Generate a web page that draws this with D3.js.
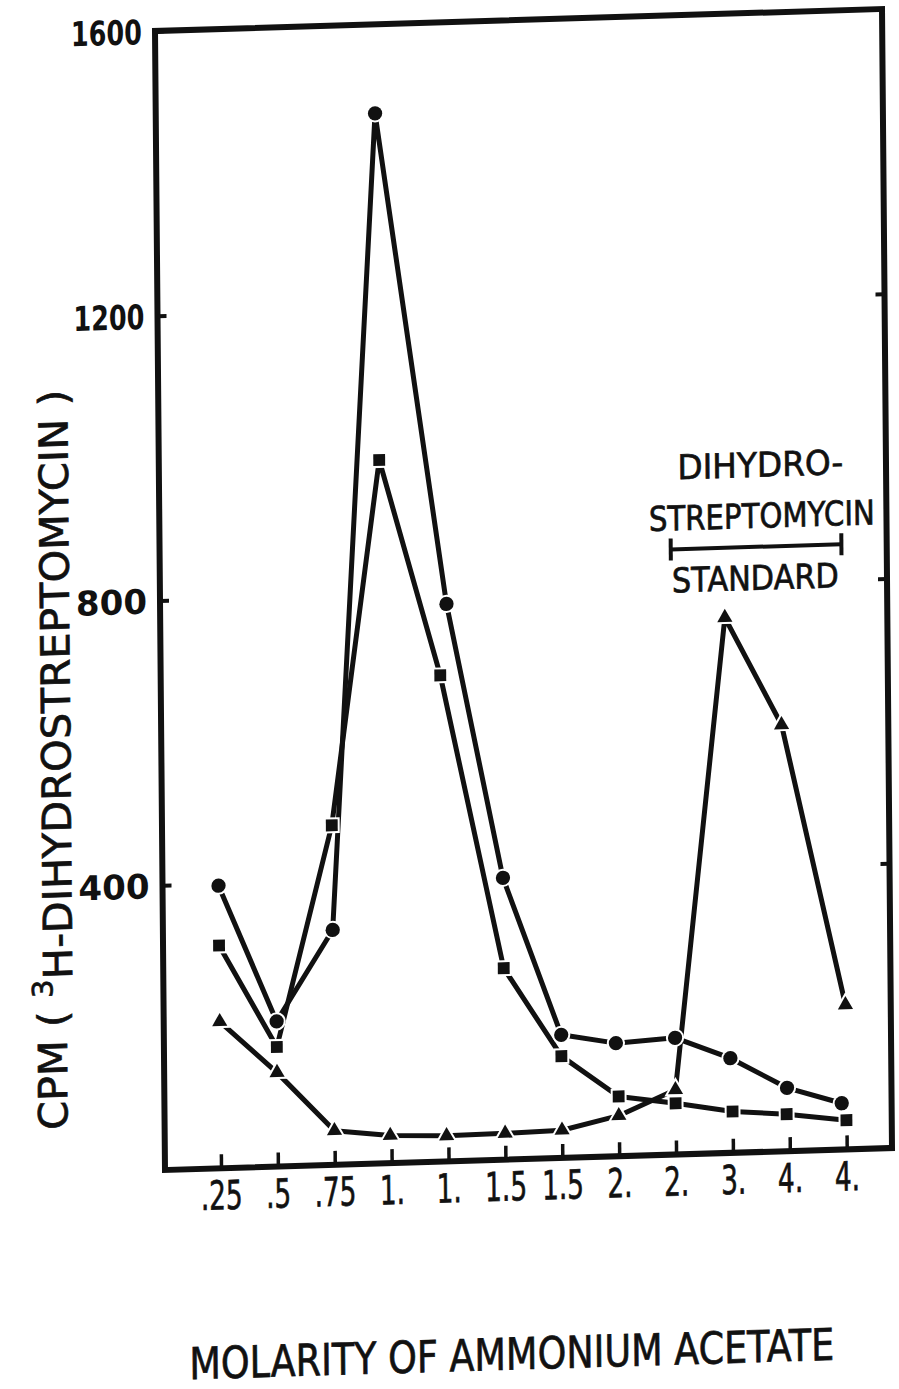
<!DOCTYPE html>
<html>
<head>
<meta charset="utf-8">
<script src="https://cdn.jsdelivr.net/npm/d3@7"></script>
<style>
  html, body { margin: 0; background: #fff; }
  svg { display: block; }
  text { font-family: "DejaVu Sans", sans-serif; fill: #111; }
  .heavy { stroke: #111; stroke-width: 0.7px; }
</style>
</head>
<body>
<svg id="chart" width="899" height="1389"></svg>
<script>
// Fractions eluted with increasing ammonium acetate molarity
const fractionLabels = [".25", ".5", ".75", "1.", "1.", "1.5", "1.5", "2.", "2.", "3.", "4.", "4."];
const fractionIndex = d3.range(1, 13);
const cpmTicks = [400, 800, 1200, 1600];

// Series: filled circles
const circleFraction = [1, 2, 3, 3.87, 5.05, 6, 7, 7.96, 9, 9.97, 10.96, 11.92];
const circleCpm = [397, 204, 330, 1475, 783, 396, 173, 159, 164, 133, 89, 65];

// Series: filled squares
const squareFraction = [1, 2, 3, 3.89, 4.93, 6, 7, 8, 9, 10, 10.95, 12];
const squareCpm = [313, 168, 477, 988, 683, 269, 143, 84, 72, 58, 52, 41];

// Series: filled triangles
const triangleFraction = [1, 2, 3, 3.98, 4.97, 6, 7, 8, 9, 9.94, 10.92, 12];
const triangleCpm = [206, 132, 48, 39, 36, 37, 39, 57, 91, 752, 599, 203];

// Range of fractions where the dihydrostreptomycin standard elutes
const standardRange = [9, 12];
const standardLevel = 850;

const W = 727, H = 1139;
const svg = d3.select("#chart");

// The plotted sheet sits slightly askew on the page
const g = svg.append("g")
  .attr("transform", "matrix(1,-0.03026,0.00878,1,155,31)");

const x = d3.scaleLinear().domain([1, 12]).range([56, 681.7]);
const y = d3.scaleLinear().domain([0, 1600]).range([H, 0]);

// Places a text and squeezes it horizontally to the wanted width
function fitText(parent, str, cx, cy, size, width, extra = "") {
  const t = parent.append("text")
    .attr("text-anchor", "middle")
    .attr("font-size", size)
    .attr("class", "heavy")
    .text(str);
  const len = t.node().getComputedTextLength();
  t.attr("transform", `translate(${cx},${cy}) ${extra} scale(${width / len},1)`);
  return t;
}

// Frame
g.append("rect")
  .attr("x", 0).attr("y", 0).attr("width", W).attr("height", H)
  .attr("fill", "none").attr("stroke", "#111").attr("stroke-width", 6);

// Bottom axis: inward ticks and condensed labels
const xAxis = g.append("g")
  .attr("transform", `translate(0,${H})`)
  .call(d3.axisBottom(x).tickValues(fractionIndex)
    .tickFormat((d, i) => fractionLabels[i])
    .tickSizeInner(-14).tickSizeOuter(0).tickPadding(0));
xAxis.select(".domain").remove();
xAxis.selectAll("line").attr("stroke", "#111").attr("stroke-width", 3.5);
xAxis.selectAll("text")
  .attr("y", 41).attr("dy", null)
  .attr("font-size", 40)
  .attr("class", "heavy")
  .attr("transform", "scale(0.66,1)")
  .style("font-family", "'DejaVu Sans', sans-serif")
  .attr("fill", "#111");

// Left axis
const yAxis = g.append("g")
  .call(d3.axisLeft(y).tickValues(cpmTicks).tickFormat(d3.format("d"))
    .tickSizeInner(-9).tickSizeOuter(0).tickPadding(13));
yAxis.select(".domain").remove();
yAxis.selectAll("line").attr("stroke", "#111").attr("stroke-width", 4);
yAxis.selectAll("text")
  .attr("font-size", 34)
  .attr("font-weight", "bold")
  .attr("dy", "0.36em")
  .attr("textLength", 71)
  .attr("lengthAdjust", "spacingAndGlyphs")
  .style("font-family", "'DejaVu Sans', sans-serif")
  .attr("fill", "#111");

// Right axis: ticks only
const yAxisR = g.append("g")
  .attr("transform", `translate(${W},0)`)
  .call(d3.axisRight(y).tickValues(cpmTicks.slice(0, 3)).tickFormat("")
    .tickSizeInner(-9).tickSizeOuter(0));
yAxisR.select(".domain").remove();
yAxisR.selectAll("line").attr("stroke", "#111").attr("stroke-width", 4);

// Axis titles
const yTitle = g.append("text")
  .attr("text-anchor", "middle")
  .attr("class", "heavy")
  .attr("font-size", 40);
yTitle.append("tspan").text("CPM ( ");
yTitle.append("tspan").attr("font-size", 28).attr("dy", "-0.5em").text("3");
yTitle.append("tspan").attr("dy", "0.5em").text("H-DIHYDROSTREPTOMYCIN )");
const yLen = yTitle.node().getComputedTextLength();
yTitle.attr("transform", `translate(-97,${H * 0.637}) rotate(-90) scale(${740 / yLen},1)`);

fitText(g, "MOLARITY OF AMMONIUM ACETATE", 345, 1349, 44, 645);

// Standard annotation
const sy = y(standardLevel);
const sx0 = x(standardRange[0]), sx1 = x(standardRange[1]);
const ann = g.append("g").attr("stroke", "#111").attr("stroke-width", 4);
ann.append("line").attr("x1", sx0).attr("x2", sx1).attr("y1", sy).attr("y2", sy);
ann.append("line").attr("x1", sx0).attr("x2", sx0).attr("y1", sy - 11).attr("y2", sy + 11);
ann.append("line").attr("x1", sx1).attr("x2", sx1).attr("y1", sy - 11).attr("y2", sy + 11);
const annCx = (sx0 + sx1) / 2;
fitText(g, "DIHYDRO-", annCx + 5, sy - 70, 34, 166);
fitText(g, "STREPTOMYCIN", annCx + 6, sy - 19, 34, 226);
fitText(g, "STANDARD", annCx - 1, sy + 43, 34, 167);

// Data series
const series = [
  { xs: circleFraction, ys: circleCpm, symbol: d3.symbolCircle, size: 160 },
  { xs: squareFraction, ys: squareCpm, symbol: d3.symbolSquare, size: 140 },
  { xs: triangleFraction, ys: triangleCpm, symbol: d3.symbolTriangle, size: 100 }
];

const line = d3.line().x(d => x(d[0])).y(d => y(d[1]));

series.forEach(s => {
  const pts = s.xs.map((v, i) => [v, s.ys[i]]);
  g.append("path")
    .attr("d", line(pts))
    .attr("fill", "none")
    .attr("stroke", "#111")
    .attr("stroke-width", 5)
    .attr("stroke-linejoin", "round");
});

series.forEach(s => {
  const pts = s.xs.map((v, i) => [v, s.ys[i]]);
  g.append("g").selectAll("path")
    .data(pts)
    .join("path")
    .attr("transform", d => `translate(${x(d[0])},${y(d[1])})`)
    .attr("d", d3.symbol().type(s.symbol).size(s.size))
    .attr("fill", "#111")
    .attr("stroke", "#fff")
    .attr("stroke-width", 4)
    .attr("paint-order", "stroke");
});
</script>
</body>
</html>
